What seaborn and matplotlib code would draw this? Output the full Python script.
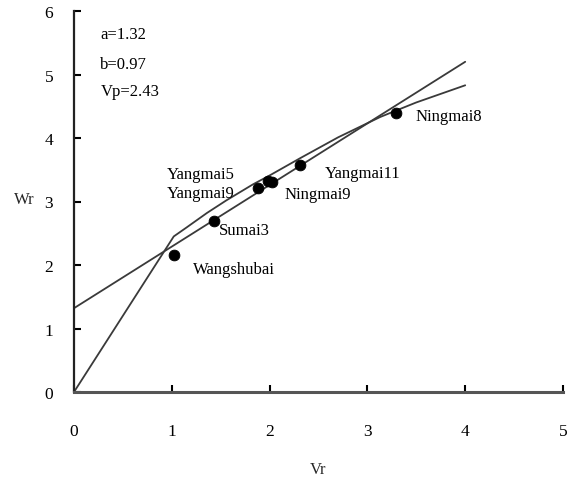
import matplotlib
matplotlib.use("Agg")
import matplotlib.pyplot as plt
import seaborn as sns
import pandas as pd

# ---- data ----
cultivars = ["Wangshubai", "Sumai3", "Yangmai5", "Yangmai9", "Ningmai9", "Yangmai11", "Ningmai8"]
vr = [1.02, 1.43, 1.88, 1.98, 2.02, 2.31, 3.29]
wr = [2.15, 2.70, 3.22, 3.33, 3.31, 3.57, 4.39]

reg_x = [0.0, 4.0]
reg_y = [1.32, 5.20]

curve_x = [0.0, 1.02, 1.15, 1.36, 1.56, 1.83, 2.00, 2.31, 2.70, 3.13, 3.29, 3.50, 4.00]
curve_y = [0.0, 2.45, 2.59, 2.82, 3.02, 3.27, 3.41, 3.68, 4.01, 4.33, 4.43, 4.56, 4.83]

x_ticks = [0, 1, 2, 3, 4, 5]
y_ticks = [0, 1, 2, 3, 4, 5, 6]

stats_text = ["a=1.32", "b=0.97", "Vp=2.43"]

# ---- style ----
sns.set_theme(style="white")
plt.rcParams['font.family'] = ['Liberation Serif', 'DejaVu Serif']

W, H = 569, 485
fig = plt.figure(figsize=(W / 100, H / 100), dpi=100)
ax = fig.add_axes([74 / W, 1 - 393 / H, (563 - 74) / W, (393 - 12) / H])

line_col = "#3a3a3a"
sns.lineplot(x=reg_x, y=reg_y, ax=ax, color=line_col, linewidth=1.3, sort=False, estimator=None)
sns.lineplot(x=curve_x, y=curve_y, ax=ax, color=line_col, linewidth=1.3, sort=False, estimator=None)

df = pd.DataFrame({"Vr": vr, "Wr": wr, "cultivar": cultivars})
sns.scatterplot(data=df, x="Vr", y="Wr", ax=ax, color="black", s=60, edgecolor="black", zorder=5)

# point labels (positions in data units)
label_pos = {
    "Yangmai5": (0.95, 3.43),
    "Yangmai9": (0.95, 3.14),
    "Sumai3": (1.48, 2.55),
    "Wangshubai": (1.22, 1.94),
    "Ningmai9": (2.15, 3.12),
    "Yangmai11": (2.56, 3.45),
    "Ningmai8": (3.49, 4.35),
}
for name, (tx, ty) in label_pos.items():
    ax.text(tx, ty, name, fontsize=12, ha="left", va="center", color="black")

for i, t in enumerate(stats_text):
    ax.text(0.27, [5.64, 5.17, 4.74][i], t, fontsize=12, ha="left", va="center", color="black")

ax.set_xlim(0, 5)
ax.set_ylim(0, 6)
ax.set_xticks(x_ticks)
ax.set_yticks(y_ticks)
ax.set_xticklabels([str(v) for v in x_ticks])
ax.set_yticklabels([str(v) for v in y_ticks])
ax.set_xlabel("")
ax.set_ylabel("")
ax.tick_params(axis="both", direction="in", length=5, width=1.5, colors="black",
               labelsize=12.5, bottom=True, left=True, top=False, right=False)
ax.tick_params(axis="x", pad=22)
ax.tick_params(axis="y", pad=15)
for s in ["top", "right"]:
    ax.spines[s].set_visible(False)
ax.spines["left"].set_color("#222222")
ax.spines["left"].set_linewidth(1.6)
ax.spines["bottom"].set_color("#555555")
ax.spines["bottom"].set_linewidth(2.2)
ax.patch.set_alpha(0)

fig.text(24 / W, 1 - 200 / H, "Wr", fontsize=12, ha="center", va="center")
fig.text(318 / W, 1 - 470 / H, "Vr", fontsize=12, ha="center", va="center")

fig.savefig("out.png", dpi=100, facecolor="white")
